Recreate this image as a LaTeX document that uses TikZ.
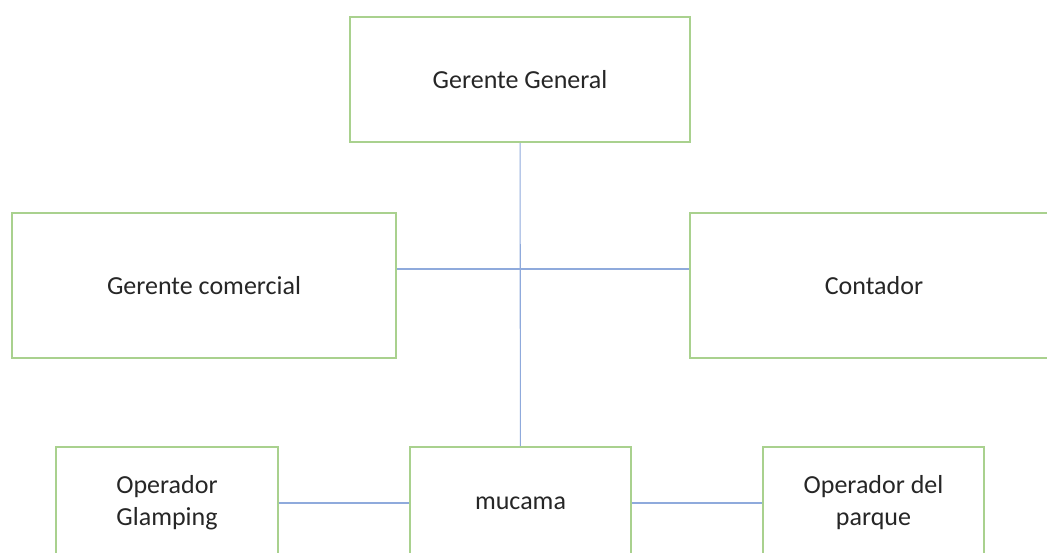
\documentclass[tikz,border=0pt]{standalone}
\usepackage{fontspec}
\setmainfont{Carlito}
\definecolor{boxgreen}{HTML}{A9D18E}
\definecolor{lineblue}{HTML}{8FAADC}
\tikzset{
	cargo/.style={draw=boxgreen, line width=2pt, fill=white, text=black!85,
		align=center, inner sep=0pt, font=\fontsize{26}{32}\selectfont},
	enlace/.style={draw=lineblue, line width=1.1pt}
}
\begin{document}
\begin{tikzpicture}[x=1pt,y=-1pt]
	\clip (0,0) rectangle (1047,552);
	\fill[white] (0,0) rectangle (1047,552);
	\node[cargo, minimum width=340pt, minimum height=125pt] (1) at (520,79.5) {Gerente General};
	\node[cargo, minimum width=384pt, minimum height=145pt] (2) at (204,285.5) {Gerente comercial};
	\node[cargo, minimum width=368pt, minimum height=145pt] (3) at (874,285.5) {Contador};
	\node[cargo, minimum width=222pt, minimum height=112pt] (4) at (167,503) {Operador\\Glamping};
	\node[cargo, minimum width=221pt, minimum height=112pt] (5) at (520.5,503) {mucama};
	\node[cargo, minimum width=221pt, minimum height=112pt] (6) at (873.5,503) {Operador del\\parque};
	\draw[enlace] (1) -- (5);
	\draw[enlace] ([yshift=16.5pt]2.east) -- ([yshift=16.5pt]3.west);
	\draw[enlace] (4) -- (5);
	\draw[enlace] (5) -- (6);
\end{tikzpicture}
\end{document}
